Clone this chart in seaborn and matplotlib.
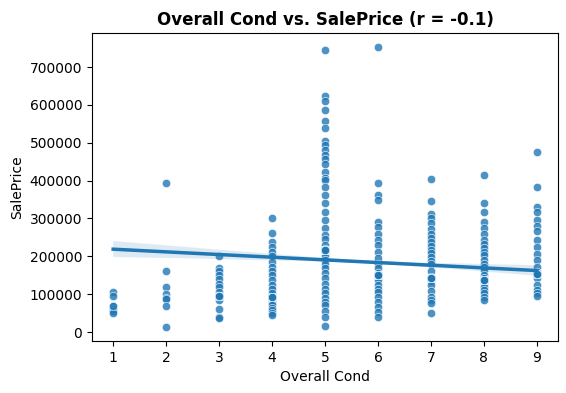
import numpy as np
import pandas as pd
import matplotlib
matplotlib.use("Agg")
import matplotlib.pyplot as plt
import seaborn as sns

# Valores, por condición
cond_1 = [105000, 95000, 68000, 61000, 55000, 50000]
cond_2 = [395000, 160000, 118000, 100000, 90000, 88000, 68000, 13000]
cond_3 = [200000, 170000, 160000, 150000, 140000, 128000, 118000, 105000,
          95000, 84000, 62000, 40000, 37000]
cond_4 = [300000, 262000, 238000, 225000, 212000, 200000, 185000, 172000,
          160000, 150000, 137000, 124000, 113000, 102000, 92000, 84000,
          77000, 71000, 64000, 58000, 50000, 44000]
cond_5 = [746000, 624000, 611000, 586000, 557000, 538000, 504000, 494000,
          480000, 469000, 458000, 445000, 423000, 406000, 401000, 383000,
          361000, 340000, 317000, 296000, 274000, 256000, 245000, 230000,
          220000, 212000, 200000, 190000, 180000, 168000, 155000, 142000,
          128000, 115000, 102000, 89000, 80000, 71000, 55000, 40000, 16000]
cond_6 = [753000, 394000, 361000, 350000, 291000, 278000, 260000, 243000,
          230000, 212000, 195000, 181000, 168000, 155000, 145000, 137000,
          125000, 115000, 105000, 93000, 80000, 67000, 54000, 40000]
cond_7 = [403000, 346000, 313000, 300000, 287000, 272000, 260000, 248000,
          238000, 226000, 216000, 208000, 199000, 188000, 179000, 162000,
          146000, 135000, 124000, 108000, 93000, 85000, 76000, 51000]
cond_8 = [416000, 340000, 317000, 291000, 275000, 260000, 243000, 232000,
          221000, 212000, 203000, 190000, 181000, 172000, 164000, 152000,
          142000, 130000, 120000, 110000, 102000, 92000, 84000]
cond_9 = [475000, 383000, 331000, 317000, 296000, 280000, 267000, 243000,
          225000, 205000, 190000, 172000, 159000, 142000, 124000, 111000,
          102000, 95000]

# Puntos superpuestos (estimados): valor central de cada columna y repeticiones
nucleo = [68000, 90000, 95000, 92000, 218000, 150000, 142000, 137000, 154000]
repeticiones = [1, 0, 25, 50, 800, 260, 190, 70, 20]

grupos = [cond_1, cond_2, cond_3, cond_4, cond_5, cond_6, cond_7, cond_8, cond_9]
xs, ys = [], []
for i, g in enumerate(grupos):
    vals = list(g) + [nucleo[i]] * repeticiones[i]
    xs += [i + 1] * len(vals)
    ys += vals
df = pd.DataFrame({"Overall Cond": xs, "SalePrice": ys})

fig, ax = plt.subplots(figsize=(5.66, 3.93), dpi=100)
fig.subplots_adjust(left=0.1625, right=0.986, top=0.916, bottom=0.132)

sns.scatterplot(data=df, x="Overall Cond", y="SalePrice", alpha=0.8, ax=ax)
sns.regplot(data=df, x="Overall Cond", y="SalePrice", scatter=False, ci=99,
            line_kws={"lw": 2.5}, ax=ax)

ax.set_title("Overall Cond vs. SalePrice (r = -0.1)", fontweight="bold")
ax.set_xlabel("Overall Cond")
ax.set_ylabel("SalePrice")

fig.savefig("out.png", dpi=100)
